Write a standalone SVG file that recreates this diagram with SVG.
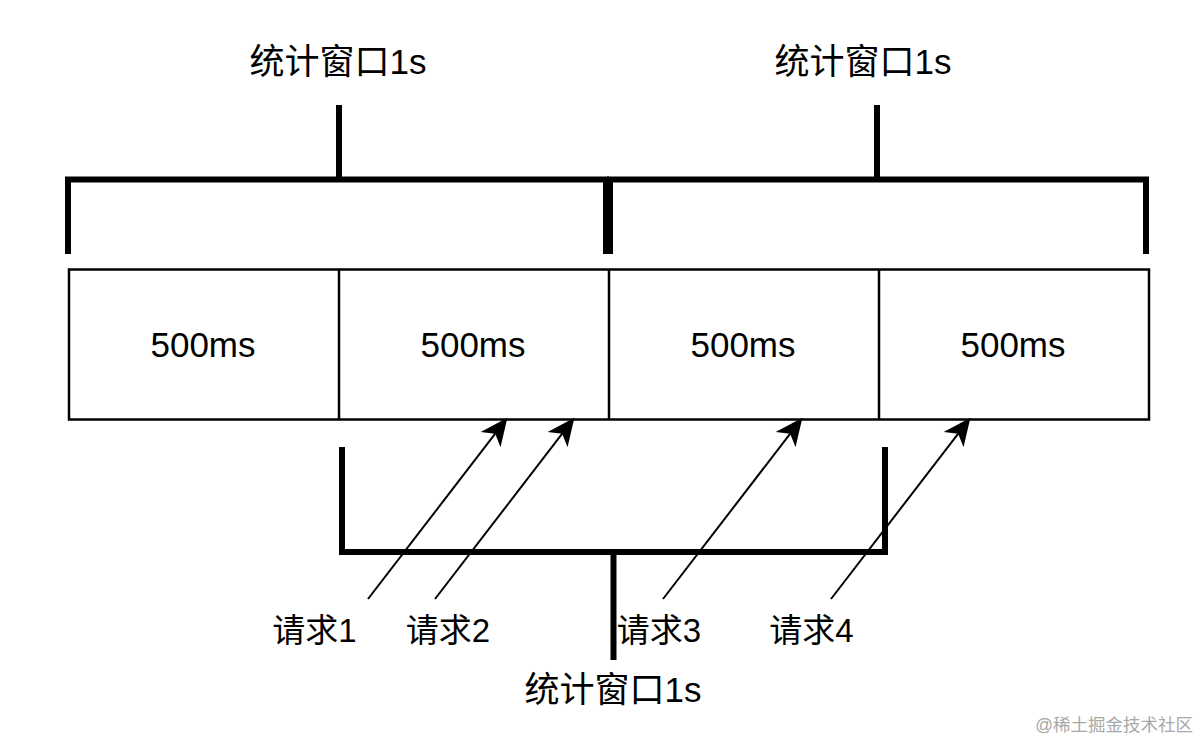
<svg xmlns="http://www.w3.org/2000/svg" width="1200" height="740" viewBox="0 0 1200 740">
  <style>
    .lbl { font-family: "Liberation Sans", "Noto Sans CJK SC", sans-serif; fill: #000; }
    .win { font-size: 35px; text-anchor: middle; }
    .cell { font-size: 35px; text-anchor: middle; }
    .req { font-size: 33px; text-anchor: middle; }
    .brk { fill: none; stroke: #000; stroke-width: 6; stroke-linejoin: miter; stroke-linecap: butt; }
    .box { fill: #fff; stroke: #000; stroke-width: 2.5; }
    .div { stroke: #000; stroke-width: 2.5; }
    .arr { fill: none; stroke: #000; stroke-width: 2; }
    .wm { font-family: "Liberation Sans", "Noto Sans CJK SC", sans-serif; font-size: 17.5px; fill: #a8a8a8; text-anchor: end; }
  </style>
  <defs>
    <marker id="ah" markerUnits="userSpaceOnUse" markerWidth="30" markerHeight="30" viewBox="0 -12 24 24" refX="6" refY="0" orient="auto">
      <path d="M22,0 L0,-10 L6,0 L0,10 Z" fill="#000"/>
    </marker>
  </defs>
  <rect width="1200" height="740" fill="#fff"/>

  <g id="slots">
    <rect class="box" x="69" y="269.5" width="1080" height="150"/>
    <line class="div" x1="339" y1="269.5" x2="339" y2="419.5"/>
    <line class="div" x1="609" y1="269.5" x2="609" y2="419.5"/>
    <line class="div" x1="879" y1="269.5" x2="879" y2="419.5"/>
  </g>
  <g id="slot1"><text class="lbl cell" x="203" y="357">500ms</text></g>
  <g id="slot2"><text class="lbl cell" x="473" y="357">500ms</text></g>
  <g id="slot3"><text class="lbl cell" x="743" y="357">500ms</text></g>
  <g id="slot4"><text class="lbl cell" x="1013" y="357">500ms</text></g>

  <g id="window-top-left">
    <path class="brk" d="M68,254 V179.5 H606 V254"/>
    <path class="brk" d="M339,105 V179.5"/>
    <text class="lbl win" x="338" y="74">统计窗口1s</text>
  </g>
  <g id="window-top-right">
    <path class="brk" d="M610,254 V179.5 H1146 V254"/>
    <path class="brk" d="M877,105 V179.5"/>
    <text class="lbl win" x="863" y="74">统计窗口1s</text>
  </g>
  <g id="window-bottom">
    <path class="brk" d="M342,447 V552 H885 V447"/>
    <path class="brk" d="M613.5,552 V660"/>
    <text class="lbl win" x="613" y="702">统计窗口1s</text>
  </g>

  <g id="req1"><text class="lbl req" x="314.5" y="642">请求1</text></g>
  <g id="req2"><text class="lbl req" x="448" y="642">请求2</text></g>
  <g id="req3"><text class="lbl req" x="659" y="642">请求3</text></g>
  <g id="req4"><text class="lbl req" x="811.5" y="642">请求4</text></g>

  <g id="connectors">
    <path class="arr" d="M368,599 L495.2,433.7" marker-end="url(#ah)"/>
    <path class="arr" d="M435,599 L562.2,433.7" marker-end="url(#ah)"/>
    <path class="arr" d="M663,599 L790.2,433.7" marker-end="url(#ah)"/>
    <path class="arr" d="M831,599 L958.2,433.7" marker-end="url(#ah)"/>
  </g>

  <text class="wm" x="1193" y="731">@稀土掘金技术社区</text>
</svg>
